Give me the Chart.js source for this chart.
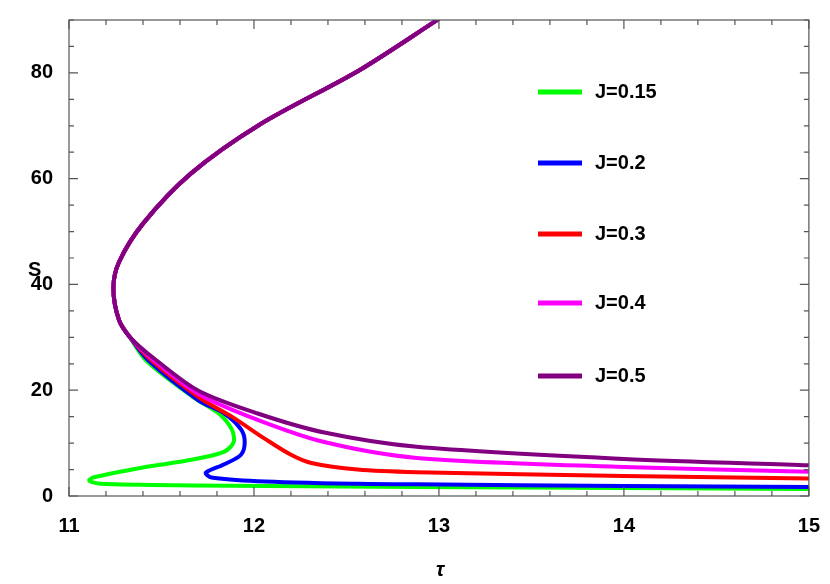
<!DOCTYPE html>
<html><head><meta charset="utf-8">
<script src="https://cdn.jsdelivr.net/npm/chart.js@4"></script>
<style>html,body{margin:0;padding:0;background:#fff}#w{width:830px;height:584px}</style>
</head><body><div id="w"><canvas id="c"></canvas></div>
<script>
const labels = ["J=0.15","J=0.2","J=0.3","J=0.4","J=0.5"];
const colors = ["#00ff00","#0000ff","#ff0000","#ff00ff","#800080"];
const xTicks = [11,12,13,14,15];
const yTicks = [0,20,40,60,80];
// shared upper branch (tau, S)
const upperTau = [13.0,12.57,12.03,11.66,11.40,11.27,11.24,11.27,11.33];
const upperS   = [90.2,80.5,70.2,61.0,51.5,44.2,39.3,33.3,30.0];
const tau015 = [11.42,11.67,11.81,11.88,11.89,11.84,11.67,11.40,11.13,11.11,11.17,11.67,12.88,14.0,15.0];
const s015   = [25.5,18.7,15.6,12.6,10.2,8.4,6.9,5.4,3.5,2.9,2.3,2.0,1.7,1.5,1.3];
const tau02  = [11.43,11.70,11.84,11.93,11.95,11.93,11.84,11.74,11.77,12.02,12.56,12.88,14.0,15.0];
const s02    = [25.6,18.1,15.6,12.6,10.2,7.8,6.0,4.4,3.5,2.8,2.3,2.2,1.9,1.7];
const tau03  = [11.44,11.70,11.88,12.06,12.20,12.31,12.56,12.88,14.0,15.0];
const s03    = [25.8,18.7,15.0,10.8,7.8,6.25,5.0,4.5,3.8,3.3];
const tau04  = [11.45,11.70,12.02,12.38,12.88,14.0,15.0];
const s04    = [25.9,19.3,14.4,10.2,7.2,5.5,4.6];
const tau05  = [11.46,11.70,12.02,12.38,12.88,14.0,15.0];
const s05    = [26.0,19.9,15.6,12.0,9.3,7.0,5.8];
const lowers = [[tau015,s015],[tau02,s02],[tau03,s03],[tau04,s04],[tau05,s05]];
const datasets = lowers.map((l,i)=>{
  const pts = upperTau.map((t,k)=>({x:t,y:upperS[k]}));
  l[0].forEach((t,k)=>pts.push({x:t,y:l[1][k]}));
  return {label:labels[i],data:pts,showLine:true,borderColor:colors[i],backgroundColor:colors[i],
    borderWidth:4,pointRadius:0,tension:0.3,fill:false,order:4-i};
});
const FONT = "bold 20px 'Liberation Sans', Arial, sans-serif";
const deco = {
  id:'deco',
  afterDraw(ch){
    const c=ch.ctx, a=ch.chartArea, xs=ch.scales.x, ys=ch.scales.y;
    c.save();
    c.strokeStyle='#555'; c.lineWidth=1.2;
    c.strokeRect(a.left,a.top,a.right-a.left,a.bottom-a.top);
    for(let v=11; v<=15.0001; v+=0.2){
      const p=xs.getPixelForValue(v); const major=Math.abs(v-Math.round(v))<1e-6;
      const L=major?9:5;
      c.beginPath();c.moveTo(p,a.bottom);c.lineTo(p,a.bottom-L);c.moveTo(p,a.top);c.lineTo(p,a.top+L);c.stroke();
    }
    for(let v=0; v<=90; v+=5){
      const p=ys.getPixelForValue(v); const major=v%20===0;
      const L=major?9:5;
      c.beginPath();c.moveTo(a.left,p);c.lineTo(a.left+L,p);c.moveTo(a.right,p);c.lineTo(a.right-L,p);c.stroke();
    }
    c.font=FONT; c.fillStyle='#000'; c.textBaseline='middle';
    const ly=[92,163,234,303,376];
    labels.forEach((t,i)=>{
      c.strokeStyle=colors[i]; c.lineWidth=5;
      c.beginPath();c.moveTo(538,ly[i]);c.lineTo(582,ly[i]);c.stroke();
      c.fillText(t,595,ly[i]);
    });
    c.fillText('S',28,270);
    c.font="bold italic 20px 'Liberation Sans', Arial, sans-serif";
    c.textAlign='center'; c.fillText('τ',440,570);
    c.restore();
  }
};
new Chart(document.getElementById('c'),{
  type:'scatter',
  data:{datasets},
  options:{
    responsive:true, maintainAspectRatio:false, animation:false,
    layout:{padding:{top:-17,right:12,left:0,bottom:0}},
    plugins:{legend:{display:false},tooltip:{enabled:false}},
    scales:{
      x:{type:'linear',min:11,max:15,
        afterBuildTicks(s){s.ticks=xTicks.map(v=>({value:v}));},
        afterFit(s){s.height=88;},
        grid:{display:false},border:{display:false},
        ticks:{padding:10,color:'#000',font:{family:"'Liberation Sans', Arial",size:20,weight:'bold'}}},
      y:{type:'linear',min:0,max:90,
        afterBuildTicks(s){s.ticks=yTicks.map(v=>({value:v}));},
        afterFit(s){s.width=69;},
        grid:{display:false},border:{display:false},
        ticks:{padding:8,color:'#000',font:{family:"'Liberation Sans', Arial",size:20,weight:'bold'}}}
    }
  },
  plugins:[deco]
});
</script></body></html>
